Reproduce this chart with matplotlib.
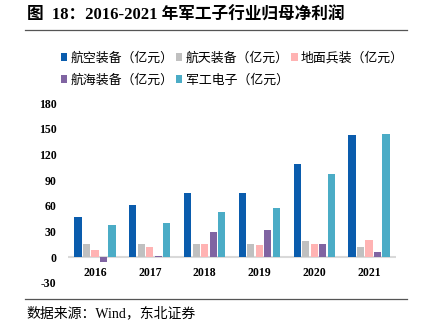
"""军工子行业归母净利润 2016-2021 柱状图"""
import matplotlib
matplotlib.use("Agg")
import matplotlib.pyplot as plt
import numpy as np
from matplotlib.patches import Patch
from matplotlib.lines import Line2D

FONTS = ["Liberation Serif", "Noto Sans CJK SC", "DejaVu Sans"]
plt.rcParams["font.family"] = FONTS
plt.rcParams["axes.unicode_minus"] = False

# --- 数据 ---
years = ["2016", "2017", "2018", "2019", "2020", "2021"]
series_names = ["航空装备（亿元）", "航天装备（亿元）", "地面兵装（亿元）",
                "航海装备（亿元）", "军工电子（亿元）"]
aviation = [47, 61.5, 74.5, 75.5, 108.5, 143]
aerospace = [16, 16, 16, 15, 18.5, 12.5]
ground = [9, 11.5, 15, 14, 15, 20]
marine = [-6, 1.5, 30, 31.5, 15, 6.5]
electronics = [37.5, 40.5, 53, 57, 97, 143.5]
colors = ["#0A5CAD", "#C0C0C0", "#FFB3B3", "#8064A2", "#4BACC6"]
yticks = [-30, 0, 30, 60, 90, 120, 150, 180]

data = [aviation, aerospace, ground, marine, electronics]

fig = plt.figure(figsize=(4.26, 3.27), dpi=100)
ax = fig.add_axes([0.1587, 0.1346, 0.7718, 0.5504])

x = np.arange(len(years))
step = 0.155
width = 0.13
for k, (vals, c) in enumerate(zip(data, colors)):
    ax.bar(x + (k - 2) * step, vals, width=width, color=c, edgecolor="none", zorder=2)

ax.axhline(0, color="#D9D9D9", lw=1.5, zorder=1)
ax.set_xlim(-0.5, len(years) - 0.5)
ax.set_ylim(-30, 180)
ax.set_yticks(yticks)
ax.set_yticklabels([str(t) for t in yticks], fontsize=8.5, fontweight="bold")
ax.tick_params(axis="y", length=0, pad=8)
ax.set_xticks([])
for s in ax.spines.values():
    s.set_visible(False)

# 年份标签紧贴零线下方
for i, y in enumerate(years):
    ax.annotate(y, (i, 0), xytext=(0, -11), textcoords="offset points",
                ha="center", va="center", fontsize=8.5, fontweight="bold")

# --- 图例（两行，按行排列） ---
handles = [Patch(facecolor=c, edgecolor="none") for c in colors]
order = [0, 3, 1, 4, 2]
fig.legend([handles[i] for i in order], [series_names[i] for i in order],
           ncol=3, loc="center left", bbox_to_anchor=(0.115, 0.788),
           frameon=False, handlelength=0.5, handleheight=0.5,
           handletextpad=0.25, columnspacing=0.2, labelspacing=0.75,
           prop={"family": FONTS, "size": 9.3})

# --- 标题与分隔线 ---
fig.text(0.063, 0.951, "图  18：2016-2021 年军工子行业归母净利润",
         fontsize=12, fontweight="bold", va="center", ha="left")
fig.add_artist(Line2D([25 / 426, 407 / 426], [1 - 29.5 / 327] * 2,
                      color="#555555", lw=0.9, transform=fig.transFigure))
fig.add_artist(Line2D([25 / 426, 407 / 426], [1 - 299 / 327] * 2,
                      color="#555555", lw=0.9, transform=fig.transFigure))
fig.text(0.063, 1 - 313 / 327, "数据来源：Wind，东北证券",
         fontsize=10, va="center", ha="left")

plt.savefig("out.png", dpi=100)
